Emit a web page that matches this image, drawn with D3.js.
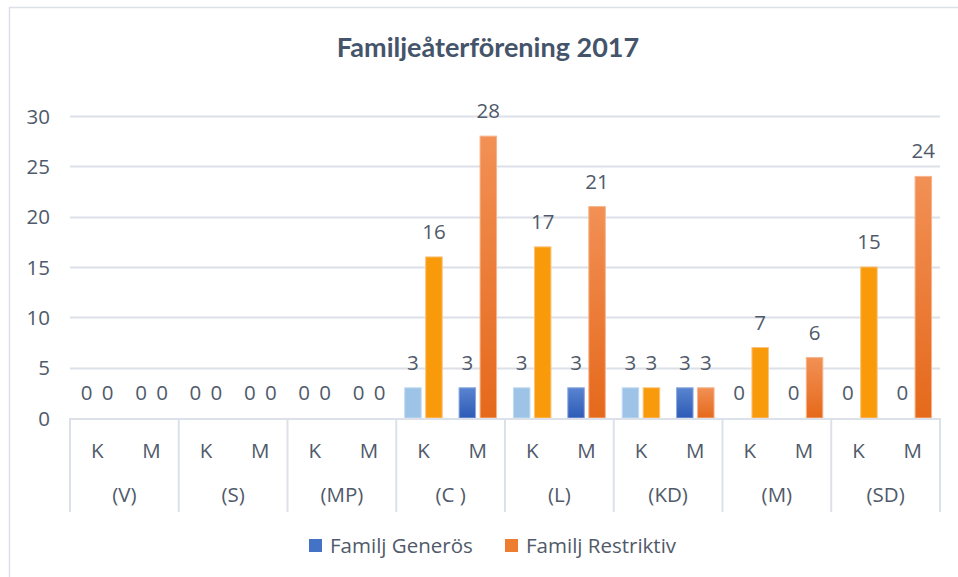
<!DOCTYPE html>
<html>
<head>
<meta charset="utf-8">
<script src="https://cdn.jsdelivr.net/npm/d3@7"></script>
<style>
  html, body { margin: 0; padding: 0; background: #fff; }
  svg { display: block; }
  text { font-family: "Open Sans", "Noto Sans", sans-serif; fill: #505A6A; }
</style>
</head>
<body>
<svg id="chart" width="958" height="577"></svg>
<script>

// データ
const parties = ["(V)", "(S)", "(MP)", "(C )", "(L)", "(KD)", "(M)", "(SD)"];
const genders = ["K", "M"];
const seriesNames = ["Familj Generös", "Familj Restriktiv"];
const generosK = [0, 0, 0, 3, 3, 3, 0, 0];
const generosM = [0, 0, 0, 3, 3, 3, 0, 0];
const restriktivK = [0, 0, 0, 16, 17, 3, 7, 15];
const restriktivM = [0, 0, 0, 28, 21, 3, 6, 24];
const yTicks = [0, 5, 10, 15, 20, 25, 30];

const svg = d3.select("#chart");
const margin = {top: 116, right: 18, bottom: 159, left: 70};
const width = 958, height = 577;
const fontSize = "20.5px";

// 枠線
svg.append("rect")
  .attr("x", 9.5).attr("y", 7.5)
  .attr("width", 1000).attr("height", 700)
  .attr("fill", "none")
  .attr("stroke", "#DCE0E8")
  .attr("stroke-width", 1.5);

// グラデーション
const defs = svg.append("defs");
function addGradient(id, top, bottom) {
  const g = defs.append("linearGradient")
    .attr("id", id).attr("x1", 0).attr("y1", 0).attr("x2", 0).attr("y2", 1);
  g.append("stop").attr("offset", "0%").attr("stop-color", top);
  g.append("stop").attr("offset", "100%").attr("stop-color", bottom);
}
addGradient("gradBlue", "#5A84D0", "#2D5BB6");
addGradient("gradOrange", "#F29055", "#E5691B");

const fills = {
  "gen-K": "#9DC3E6",
  "gen-M": "url(#gradBlue)",
  "res-K": "#F99A0B",
  "res-M": "url(#gradOrange)"
};
const strokes = {
  "gen-K": "#C3DBF1",
  "gen-M": "#8CA8DE",
  "res-K": "#FBC27A",
  "res-M": "#F6B48C"
};

// スケール
const x0 = d3.scaleBand()
  .domain(parties)
  .range([margin.left, width - margin.right])
  .padding(0);
const x1 = d3.scaleBand()
  .domain(genders)
  .range([0, x0.bandwidth()])
  .padding(0);
const pairW = 37.5;
const x2 = d3.scaleBand()
  .domain(["gen", "res"])
  .range([(x1.bandwidth() - pairW) / 2, (x1.bandwidth() + pairW) / 2])
  .paddingInner(0.214);
const y = d3.scaleLinear()
  .domain([0, 30])
  .range([height - margin.bottom, margin.top]);

// 罫線
svg.append("g")
  .selectAll("line")
  .data(yTicks.filter(d => d > 0))
  .join("line")
  .attr("x1", margin.left).attr("x2", width - margin.right)
  .attr("y1", d => Math.round(y(d)) + 0.5)
  .attr("y2", d => Math.round(y(d)) + 0.5)
  .attr("stroke", "#DCE0E8")
  .attr("stroke-width", 2);

// y 軸の目盛り
svg.append("g")
  .selectAll("text")
  .data(yTicks)
  .join("text")
  .attr("x", 50)
  .attr("y", d => y(d) + 7.5)
  .attr("text-anchor", "end")
  .style("font-size", fontSize)
  .text(d => d);

// 棒のデータを組み立てる
const rows = [];
parties.forEach((p, i) => {
  rows.push({party: p, gender: "K", series: "gen", value: generosK[i]});
  rows.push({party: p, gender: "K", series: "res", value: restriktivK[i]});
  rows.push({party: p, gender: "M", series: "gen", value: generosM[i]});
  rows.push({party: p, gender: "M", series: "res", value: restriktivM[i]});
});
const barX = d => x0(d.party) + x1(d.gender) + x2(d.series);

svg.append("g")
  .selectAll("rect")
  .data(rows.filter(d => d.value > 0))
  .join("rect")
  .attr("x", d => barX(d))
  .attr("y", d => y(d.value))
  .attr("width", x2.bandwidth())
  .attr("height", d => y(0) - y(d.value))
  .attr("fill", d => fills[d.series + "-" + d.gender])
  .attr("stroke", d => strokes[d.series + "-" + d.gender])
  .attr("stroke-width", 1);

// データラベル
svg.append("g")
  .selectAll("text")
  .data(rows)
  .join("text")
  .attr("x", d => barX(d) + x2.bandwidth() / 2)
  .attr("y", d => y(d.value) - 18)
  .attr("text-anchor", "middle")
  .style("font-size", fontSize)
  .text(d => d.value);

// x 軸
const axisY = y(0);
svg.append("line")
  .attr("x1", margin.left).attr("x2", width - margin.right)
  .attr("y1", axisY + 1).attr("y2", axisY + 1)
  .attr("stroke", "#DCE0E8")
  .attr("stroke-width", 2);
svg.append("g")
  .selectAll("line")
  .data(parties.concat(["end"]))
  .join("line")
  .attr("x1", d => d === "end" ? width - margin.right : x0(d))
  .attr("x2", d => d === "end" ? width - margin.right : x0(d))
  .attr("y1", axisY).attr("y2", 512)
  .attr("stroke", "#DCE0E8")
  .attr("stroke-width", 2);

// K / M ラベル
const subLabels = [];
parties.forEach(p => genders.forEach(g => subLabels.push({party: p, gender: g})));
svg.append("g")
  .selectAll("text")
  .data(subLabels)
  .join("text")
  .attr("x", d => x0(d.party) + x1(d.gender) + x1.bandwidth() / 2)
  .attr("y", 458)
  .attr("text-anchor", "middle")
  .style("font-size", fontSize)
  .text(d => d.gender);

// 政党ラベル
svg.append("g")
  .selectAll("text")
  .data(parties)
  .join("text")
  .attr("x", d => x0(d) + x0.bandwidth() / 2)
  .attr("y", 502)
  .attr("text-anchor", "middle")
  .style("font-size", fontSize)
  .text(d => d);

// タイトル
svg.append("text")
  .attr("x", 488)
  .attr("y", 57)
  .attr("text-anchor", "middle")
  .style("font-family", "Lato, 'Open Sans', sans-serif")
  .style("font-weight", "bold")
  .style("font-size", "27px")
  .style("fill", "#44546A")
  .text("Familjeåterförening 2017");

// 凡例
const legend = svg.append("g");
const legendItems = [
  {name: seriesNames[0], color: "#4472C4", sx: 309, tx: 330},
  {name: seriesNames[1], color: "#ED7D31", sx: 505, tx: 526}
];
legend.selectAll("rect")
  .data(legendItems)
  .join("rect")
  .attr("x", d => d.sx).attr("y", 539)
  .attr("width", 13).attr("height", 13)
  .attr("fill", d => d.color);
legend.selectAll("text")
  .data(legendItems)
  .join("text")
  .attr("x", d => d.tx).attr("y", 553)
  .style("font-size", fontSize)
  .text(d => d.name);

</script>
</body>
</html>
